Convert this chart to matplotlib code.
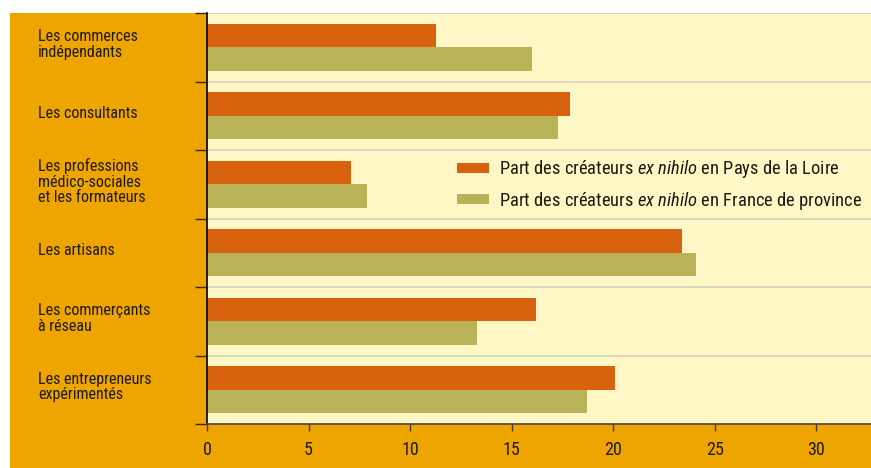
import matplotlib.pyplot as plt
import matplotlib.transforms as mtransforms
from matplotlib.patches import Rectangle, Patch
from matplotlib import font_manager

# pick a narrow-looking font if one is installed
names = {f.name for f in font_manager.fontManager.ttflist}
fam = "DejaVu Sans"
for cand in ["Liberation Sans Narrow", "Roboto Condensed", "Open Sans Condensed", "Liberation Sans"]:
    if cand in names:
        fam = cand
        break
plt.rcParams["font.family"] = [fam, "DejaVu Sans"]
plt.rcParams["mathtext.fontset"] = "custom"
plt.rcParams["mathtext.rm"] = fam
plt.rcParams["mathtext.it"] = fam + ":italic"

categories = [
    "Les commerces\nindépendants",
    "Les consultants",
    "Les professions\nmédico-sociales\net les formateurs",
    "Les artisans",
    "Les commerçants\nà réseau",
    "Les entrepreneurs\nexpérimentés",
]
pays_loire = [11.3, 17.9, 7.1, 23.4, 16.2, 20.1]
france_province = [16.0, 17.3, 7.9, 24.1, 13.3, 18.7]
series_labels = [
    r"Part des créateurs $\mathit{ex\ nihilo}$ en Pays de la Loire",
    r"Part des créateurs $\mathit{ex\ nihilo}$ en France de province",
]
xticks = [0, 5, 10, 15, 20, 25, 30]

c_orange = "#D9620E"
c_olive = "#B9B257"
c_bg = "#FFF7C6"
c_outer = "#EEA500"
c_text = "#1E1A10"

W, H = 871, 468
fig = plt.figure(figsize=(W / 100, H / 100), dpi=100)
fig.patch.set_facecolor("white")
fig.patches.append(Rectangle((10 / W, 0), 1, (H - 13) / H, transform=fig.transFigure,
                             facecolor=c_outer, edgecolor="none", zorder=-10))

ax = fig.add_axes([207 / W, (H - 424) / H, (W - 207) / W, (424 - 13) / H])
ax.set_facecolor(c_bg)

ypos = list(range(len(categories)))
h = 0.34
ax.barh([y - h / 2 for y in ypos], pays_loire, height=h, color=c_orange, zorder=3)
ax.barh([y + h / 2 for y in ypos], france_province, height=h, color=c_olive, zorder=3)

ax.set_ylim(len(categories) - 0.5, -0.5)
ax.set_xlim(0, 32.7)

bounds = [i - 0.5 for i in range(len(categories) + 1)]
ax.set_yticks(bounds)
ax.set_yticklabels([])
ax.tick_params(axis="y", direction="out", length=9, width=1, color="#3a2a00")
for b in bounds:
    ax.axhline(b, color="#D6D2BE", lw=1.2, zorder=1)

ax.set_xticks(xticks)
ax.tick_params(axis="x", direction="out", length=5, width=1, color="#3a3a3a",
               labelsize=13, labelcolor=c_text, pad=7)

for s in ["top", "right"]:
    ax.spines[s].set_visible(False)
ax.spines["left"].set_color("black")
ax.spines["left"].set_linewidth(1.2)
ax.spines["bottom"].set_color("#4a4a4a")
ax.spines["bottom"].set_linewidth(1.2)
ax.spines["left"].set_zorder(5)
ax.spines["bottom"].set_zorder(5)

trans = mtransforms.blended_transform_factory(fig.transFigure, ax.transData)
for y, lab in zip(ypos, categories):
    ax.text(38 / W, y - 0.04, lab, transform=trans, ha="left", va="center",
            fontsize=11.5, color=c_text, linespacing=1.05, clip_on=False)

handles = [Patch(facecolor=c_orange), Patch(facecolor=c_olive)]
leg = ax.legend(handles, series_labels, loc="upper left", bbox_to_anchor=(0.366, 0.664),
                frameon=False, fontsize=13.3, handlelength=1.7, handleheight=0.4,
                handletextpad=0.55, labelspacing=0.5, borderaxespad=0)
for t in leg.get_texts():
    t.set_color(c_text)

fig.savefig("out.png", dpi=100)
